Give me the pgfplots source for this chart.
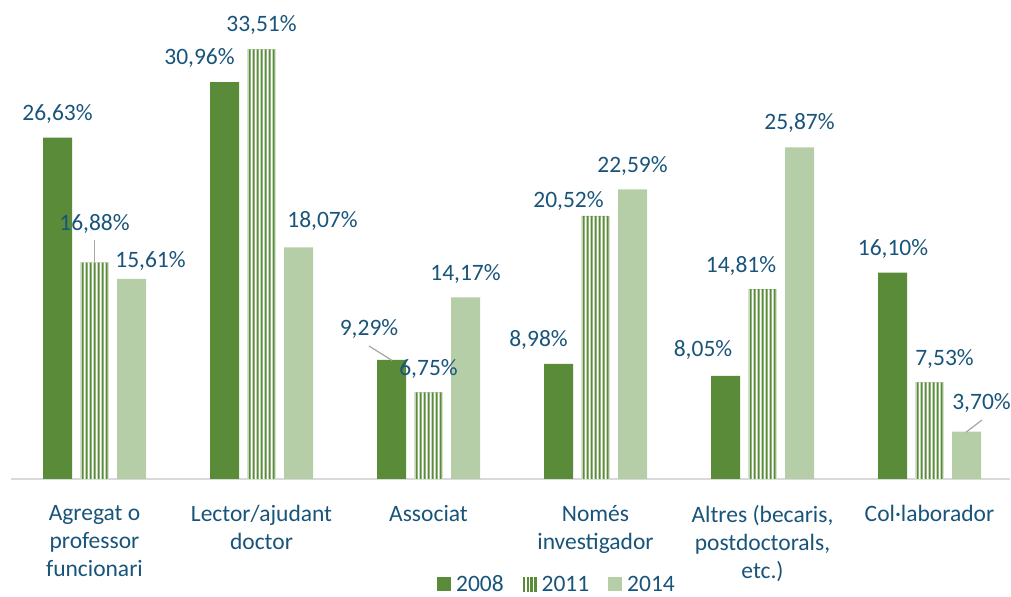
\documentclass[border=0pt]{standalone}
\usepackage{pgfplots}
\usepackage{pgfplotstable}
\pgfplotsset{compat=1.18}
\usepackage{fontspec}
\setmainfont{Carlito}
\definecolor{dg}{RGB}{89,139,57}
\definecolor{lg}{RGB}{181,206,167}
\definecolor{tb}{RGB}{25,84,122}
\definecolor{ld}{RGB}{166,166,166}
\definecolor{edge}{RGB}{215,225,208}

\pgfplotstableread{
x y2008 y2011 y2014
0 26.63 16.88 15.61
1 30.96 33.51 18.07
2 9.29 6.75 14.17
3 8.98 20.52 22.59
4 8.05 14.81 25.87
5 16.10 7.53 3.70
}\data

\pgfplotstableread{
x y lab
-0.2216 27.925 26,63
0.0 19.345 16,88
0.3353 16.459 15,61
0.6287 32.293 30,96
1.0 34.867 33,51
1.3653 19.579 18,07
1.6437 11.154 9,29
2.0 8.034 6,75
2.2216 15.445 14,17
2.6587 10.296 8,98
2.8383 21.139 20,52
3.2216 23.869 22,59
3.6437 9.516 8,05
3.8713 16.069 14,81
4.2216 27.223 25,87
4.7814 17.395 16,10
5.0898 8.814 7,53
5.3114 5.382 3,70
}\labels

\begin{document}
\begin{tikzpicture}
\begin{axis}[
  scale only axis, width=999.5pt, height=469pt,
  xmin=-0.503, xmax=5.482, ymin=0, ymax=36.58,
  clip=false,
  axis y line=none, axis x line*=bottom,
  x axis line style={draw=black!15, line width=1.2pt, -},
  xtick={0,1,2,3,4,5}, xtick style={draw=none},
  xticklabels={{Agregat o\\professor\\funcionari},{Lector/ajudant\\doctor},{Associat},{Només\\investigador},{Altres (becaris,\\postdoctorals,\\etc.)},{Col·laborador}},
  xticklabel style={align=center, font=\fontsize{23.5}{28}\selectfont, text=tb, anchor=north, yshift=-23pt},
  legend columns=3,
  legend style={at={(0.5468,-0.2245)}, anchor=center, draw=none, fill=none,
    font=\fontsize{23.5}{28}\selectfont, text=tb, inner sep=0pt,
    /tikz/every odd column/.append style={column sep=3pt},
    /tikz/every even column/.append style={column sep=17pt}},
  legend image code/.code={\path[#1, draw=none] (0pt,-7pt) rectangle (14pt,7pt);},
]
\addplot[ybar, bar width=29pt, bar shift=-37pt, fill=dg, draw=none] table[x=x,y=y2008]{\data};
\addlegendentry{2008}
\addplot[ybar, bar width=28.5pt, bar shift=0pt, fill=white, draw=edge, line width=0.8pt,
  legend image code/.code={%
    \fill[white] (0pt,-7pt) rectangle (13pt,7pt);
    \fill[dg] (0pt,-7pt) rectangle (1.6pt,7pt);
    \fill[dg] (3.7pt,-7pt) rectangle (5.3pt,7pt);
    \fill[dg] (7.4pt,-7pt) rectangle (9pt,7pt);
    \fill[dg] (11.1pt,-7pt) rectangle (12.7pt,7pt);}]
  table[x=x,y=y2011]{\data};
\addlegendentry{2011}
\pgfplotsinvokeforeach{-12,-8,-4,0,4,8,12}{
  \addplot[forget plot, ybar, bar width=2pt, bar shift=#1pt, fill=dg, draw=none] table[x=x,y=y2011]{\data};
}
\addplot[ybar, bar width=29pt, bar shift=37pt, fill=lg, draw=none] table[x=x,y=y2014]{\data};
\addlegendentry{2014}
\addplot[forget plot, draw=none, mark=none,
  nodes near coords={\pgfplotspointmeta\%},
  point meta=explicit symbolic,
  every node near coord/.append style={anchor=base, text=tb, font=\fontsize{23.5}{28}\selectfont, inner sep=0pt}]
  table[x=x,y=y,meta=lab]{\labels};
\draw[ld, line width=1.2pt] (axis cs:0,18.64) -- (axis cs:0,16.9);
\draw[ld, line width=1.2pt] (axis cs:1.6437,10.374) -- (axis cs:1.7814,9.25);
\draw[ld, line width=1.2pt] (axis cs:5.3144,4.602) -- (axis cs:5.2186,3.65);
\end{axis}
\pgfresetboundingbox
\path[use as bounding box] ([xshift=-10.5pt,yshift=-118pt]current axis.south west) rectangle ([xshift=1pt,yshift=10pt]current axis.north east);
\end{tikzpicture}
\end{document}
